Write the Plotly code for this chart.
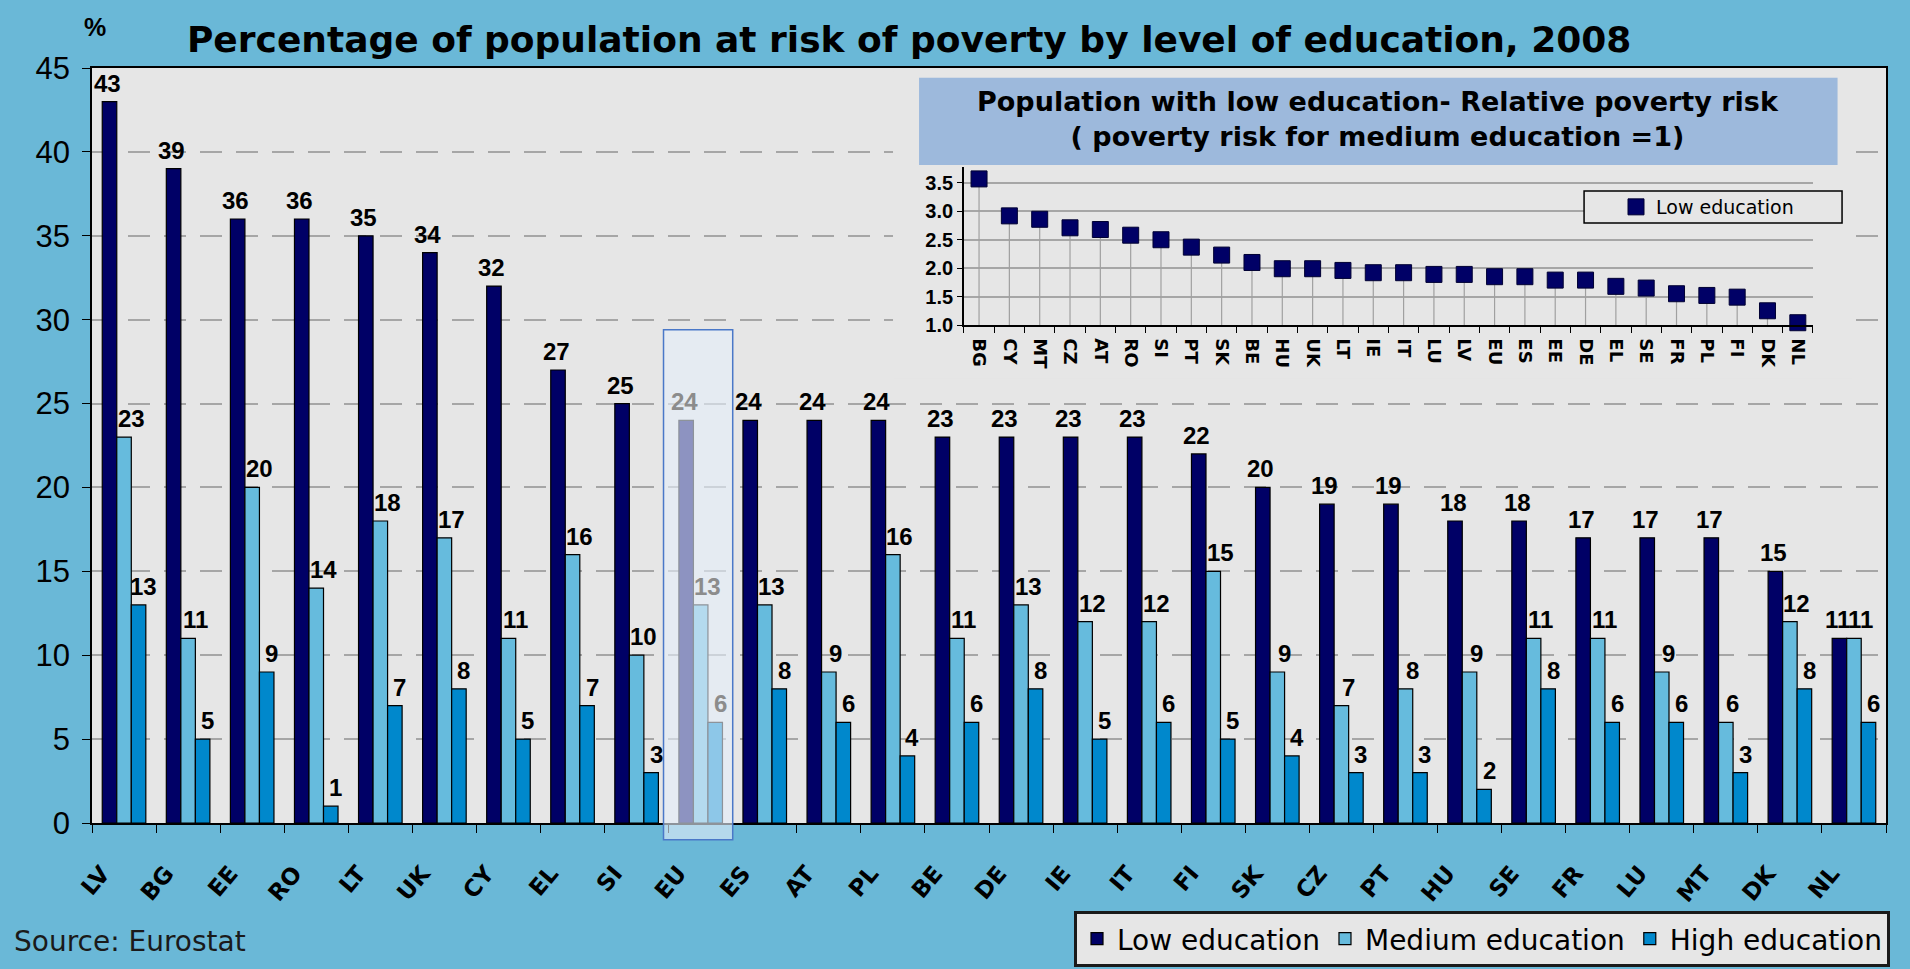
import plotly.graph_objects as go

# ---------------- data ----------------
countries = ["LV", "BG", "EE", "RO", "LT", "UK", "CY", "EL", "SI", "EU", "ES", "AT", "PL", "BE",
             "DE", "IE", "IT", "FI", "SK", "CZ", "PT", "HU", "SE", "FR", "LU", "MT", "DK", "NL"]
low_edu = [43, 39, 36, 36, 35, 34, 32, 27, 25, 24, 24, 24, 24, 23, 23, 23, 23, 22, 20, 19, 19, 18, 18, 17, 17, 17, 15, 11]
medium_edu = [23, 11, 20, 14, 18, 17, 11, 16, 10, 13, 13, 9, 16, 11, 13, 12, 12, 15, 9, 7, 8, 9, 11, 11, 9, 6, 12, 11]
high_edu = [13, 5, 9, 1, 7, 8, 5, 7, 3, 6, 8, 6, 4, 6, 8, 5, 6, 5, 4, 3, 3, 2, 8, 6, 6, 3, 8, 6]

inset_countries = ["BG", "CY", "MT", "CZ", "AT", "RO", "SI", "PT", "SK", "BE", "HU", "UK", "LT", "IE",
                   "IT", "LU", "LV", "EU", "ES", "EE", "DE", "EL", "SE", "FR", "PL", "FI", "DK", "NL"]
inset_risk = [3.57, 2.92, 2.86, 2.71, 2.68, 2.58, 2.50, 2.37, 2.23, 2.10, 1.99, 1.99, 1.96, 1.92,
              1.92, 1.89, 1.89, 1.85, 1.85, 1.79, 1.79, 1.68, 1.65, 1.55, 1.52, 1.49, 1.25, 1.04]

series_names = ["Low education", "Medium education", "High education"]
series_colors = ["#000066", "#66BBDD", "#0088CC"]

title_text = "Percentage of population at risk of poverty by level of education, 2008"
inset_title = "Population with low education- Relative poverty risk<br>( poverty risk for medium education =1)"
highlight = "EU"

# ---------------- styling ----------------
ARIAL = "Liberation Sans, Arial, sans-serif"
WIDE = "DejaVu Sans, Verdana, sans-serif"
OUTER_BG = "#6AB8D7"
PLOT_BG = "#E6E6E6"
BARGAP = 0.32
LABEL_XSHIFT = [-2, 7, 5]

fig = go.Figure()

all_series = [low_edu, medium_edu, high_edu]
for name, vals, col in zip(series_names, all_series, series_colors):
    fig.add_trace(go.Bar(
        x=countries, y=vals, name=name,
        marker=dict(color=col, line=dict(color="#000000", width=1.2)),
        legend="legend",
    ))

# empty trace on the cover subplot (gives the inset its opaque background)
fig.add_trace(go.Scatter(x=[], y=[], xaxis="x2", yaxis="y2", showlegend=False, hoverinfo="skip"))

# inset: relative poverty risk
fig.add_trace(go.Scatter(
    x=inset_countries, y=inset_risk, mode="markers", name="Low education",
    xaxis="x3", yaxis="y3", legend="legend2",
    marker=dict(symbol="square", size=16, color="#000066", line=dict(color="#000033", width=1)),
    error_y=dict(type="data", symmetric=False, array=[0] * len(inset_risk),
                 arrayminus=[v - 1.0 for v in inset_risk], width=0, color="#A0A0A0", thickness=1.2),
    cliponaxis=False,
))

n = len(countries)
eu_idx = countries.index(highlight)
bar_w = (1 - BARGAP) / len(all_series)

annotations = []
# value labels above the bars
for s, vals in enumerate(all_series):
    off = (s - (len(all_series) - 1) / 2) * bar_w
    for i, v in enumerate(vals):
        annotations.append(dict(
            text=str(v), x=i + off, y=v, xref="x", yref="y", xanchor="center", yanchor="bottom",
            xshift=LABEL_XSHIFT[s], yshift=3, showarrow=False,
            font=dict(family=ARIAL, size=24, weight="bold",
                      color="#8C8C8C" if countries[i] == highlight else "#000000")))

annotations += [
    dict(text="%", xref="paper", yref="paper", x=0.0017, y=1.054, xanchor="center", yanchor="middle",
         showarrow=False, font=dict(family=ARIAL, size=25, color="#000000", weight="bold")),
    dict(text=inset_title, xref="paper", yref="paper", x=0.717, y=0.932, xanchor="center", yanchor="middle",
         showarrow=False, align="center",
         font=dict(family=WIDE, size=27, color="#000000", weight="bold")),
    dict(text="Source: Eurostat", xref="paper", yref="paper", x=-0.0446, y=-0.1576, xanchor="left",
         yanchor="middle", showarrow=False, font=dict(family=WIDE, size=28, color="#1A1A1A")),
]

shapes = [
    # inset title box
    dict(type="rect", xref="paper", yref="paper", x0=0.461, x1=0.973, y0=0.8715, y1=0.987,
         fillcolor="#9DB9DC", line=dict(width=0), layer="above"),
    # inset legend box
    dict(type="rect", xref="paper", yref="paper", x0=0.8317, x1=0.9755, y0=0.7947, y1=0.8371,
         fillcolor=PLOT_BG, line=dict(color="#000000", width=1.5), layer="above"),
    # EU highlight box
    dict(type="rect", xref="paper", yref="paper",
         x0=(eu_idx - 0.58 + 0.5) / n, x1=(eu_idx + 0.5 + 0.5) / n,
         y0=-1.0 / 45, y1=29.4 / 45,
         fillcolor="rgba(228,238,248,0.62)", line=dict(color="#4A78C8", width=1.5), layer="above"),
]

fig.update_layout(
    width=1910, height=969,
    margin=dict(l=92, r=24, t=68, b=146),
    paper_bgcolor=OUTER_BG, plot_bgcolor=PLOT_BG,
    font=dict(family=ARIAL, color="#000000"),
    title=dict(text=title_text, x=0.476, y=1 - 39 / 969, xanchor="center", yanchor="middle",
               xref="container", yref="container",
               font=dict(family=WIDE, size=36, color="#000000", weight="bold")),
    barmode="group", bargap=BARGAP, bargroupgap=0.0,
    xaxis=dict(type="category", showline=True, linecolor="#000000", linewidth=1.5, mirror=True,
               ticks="outside", tickson="boundaries", ticklen=8, tickcolor="#000000",
               tickangle=-50, ticklabelstandoff=26, ticklabelshift=-22, automargin=False,
               tickfont=dict(family=WIDE, size=23, color="#000000", weight="bold"),
               range=[-0.5, n - 0.5], showgrid=False),
    yaxis=dict(range=[0, 45], dtick=5, showline=True, linecolor="#000000", linewidth=1.5, mirror=True,
               ticks="outside", ticklen=8, tickcolor="#000000", automargin=False,
               ticklabelstandoff=6,
               tickfont=dict(family=ARIAL, size=31, color="#000000"),
               showgrid=True, gridcolor="#A6A6A6", gridwidth=1.5, griddash="22px,14px",
               zeroline=False),
    # cover subplot (opaque background behind the inset)
    xaxis2=dict(domain=[0.4465, 0.9816], anchor="y2", visible=False, range=[0, 1], fixedrange=True),
    yaxis2=dict(domain=[0.589, 0.996], anchor="x2", visible=False, range=[0, 1], fixedrange=True),
    # inset axes
    xaxis3=dict(type="category", domain=[0.486, 0.9593], anchor="y3", showline=True,
                linecolor="#000000", linewidth=1.5, ticks="outside", tickson="boundaries",
                ticklen=6, tickcolor="#000000", tickangle=90, automargin=False,
                ticklabelstandoff=8,
                tickfont=dict(family=WIDE, size=18, color="#000000", weight="bold"),
                range=[-0.5, len(inset_countries) - 0.5], showgrid=False),
    yaxis3=dict(domain=[0.6596, 0.8689], anchor="x3", range=[1.0, 3.78], dtick=0.5, tickformat=".1f",
                showline=True, linecolor="#000000", linewidth=1.5, ticks="outside", ticklen=5,
                tickcolor="#000000", automargin=False,
                tickfont=dict(family=ARIAL, size=20, color="#000000", weight="bold"),
                showgrid=True, gridcolor="#A6A6A6", gridwidth=1.5, zeroline=False),
    legend=dict(orientation="h", xref="container", yref="container", x=1074 / 1910, y=1 - 911 / 969,
                xanchor="left", yanchor="top",
                bgcolor=PLOT_BG, bordercolor="#1A1A1A", borderwidth=3,
                font=dict(family=WIDE, size=28, color="#000000"), itemwidth=30,
                traceorder="normal"),
    legend2=dict(x=0.8495, y=0.8159, xanchor="left", yanchor="middle",
                 bgcolor="rgba(0,0,0,0)", borderwidth=0,
                 font=dict(family=WIDE, size=19, color="#000000"), itemwidth=30),
    shapes=shapes, annotations=annotations,
)

fig.write_html("out.html", config={"displayModeBar": False},
               post_script="document.body.style.margin='0';document.body.style.overflow='hidden';")
